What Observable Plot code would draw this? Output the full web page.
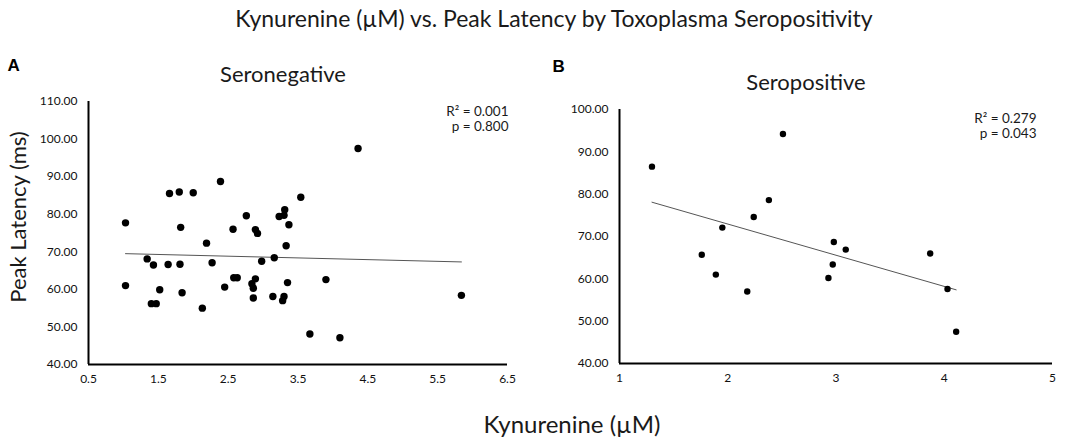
<!DOCTYPE html>
<html>
<head>
<meta charset="utf-8">
<script src="https://cdn.jsdelivr.net/npm/d3@7"></script>
<script src="https://cdn.jsdelivr.net/npm/@observablehq/plot@0.6"></script>
<style>
  html, body { margin: 0; padding: 0; background: #fff; }
  #wrap { position: relative; width: 1084px; height: 444px; overflow: hidden; font-family: Lato, "Liberation Sans", sans-serif; }
  .abs { position: absolute; }
  .ctr { transform: translateX(-50%); white-space: nowrap; line-height: 1; color: #1a1a1a; }
  #title { left: 554px; top: 7px; font-size: 23px; }
  #xtitle { left: 572px; top: 412px; font-size: 24px; }
  #left { left: 0; top: 0; }
  #right { left: 540px; top: 0; }
</style>
</head>
<body>
<div id="wrap">
  <div id="left" class="abs"></div>
  <div id="right" class="abs"></div>
  <div id="title" class="abs ctr">Kynurenine (µM) vs. Peak Latency by Toxoplasma Seropositivity</div>
  <div id="xtitle" class="abs ctr">Kynurenine (µM)</div>
</div>
<script>
// Seronegative (panel A)
const negKyn = [1.03,1.03,1.34,1.43,1.40,1.47,1.52,1.64,1.66,1.80,1.81,1.82,1.84,2.00,2.13,2.19,2.27,2.39,2.45,2.57,2.58,2.63,2.76,2.84,2.86,2.86,2.89,2.89,2.92,2.98,3.14,3.16,3.23,3.30,3.31,3.28,3.30,3.33,3.35,3.37,3.54,3.67,3.90,4.10,4.36,5.84];
const negLat = [77.7,61.0,68.1,66.5,56.2,56.2,59.9,66.6,85.5,85.9,66.7,76.5,59.1,85.7,55.0,72.3,67.1,88.7,60.6,76.0,63.1,63.1,79.6,61.5,60.3,57.7,62.8,75.9,74.9,67.5,58.1,68.4,79.4,79.7,81.2,57.0,58.1,71.6,61.8,77.2,84.5,48.1,62.6,47.1,97.5,58.4];
const negTrendKyn = [1.03, 5.84];
const negTrendLat = [69.5, 67.3];
const negXTicks = [0.5,1.5,2.5,3.5,4.5,5.5,6.5];
const negYTicks = [40,50,60,70,80,90,100,110];
const negStats = ["R² = 0.001", "p = 0.800"];

// Seropositive (panel B)
const posKyn = [1.30,1.76,1.89,1.95,2.18,2.24,2.38,2.51,2.93,2.97,2.98,3.09,3.87,4.03,4.11];
const posLat = [86.5,65.7,61.0,72.1,57.0,74.6,78.6,94.2,60.2,63.4,68.7,66.9,66.0,57.6,47.5];
const posTrendKyn = [1.30, 4.11];
const posTrendLat = [78.1, 57.4];
const posXTicks = [1,2,3,4,5];
const posYTicks = [40,50,60,70,80,90,100];
const posStats = ["R² = 0.279", "p = 0.043"];

const font = 'Lato, "Liberation Sans", sans-serif';

function panel({kyn, lat, trendKyn, trendLat, xTicks, yTicks, xFmt, stats, title, letter,
                width, mL, mR, mT, mB, r, statsDx, statsDy, letterDx, letterDy, titleDx}) {
  const pts = kyn.map((k, i) => ({k, l: lat[i]}));
  const trend = trendKyn.map((k, i) => ({k, l: trendLat[i]}));
  const xDom = [xTicks[0], xTicks[xTicks.length - 1]];
  const yDom = [yTicks[0], yTicks[yTicks.length - 1]];
  return Plot.plot({
    width, height: 444,
    marginLeft: mL, marginRight: mR, marginTop: mT, marginBottom: mB,
    style: {fontFamily: font, fontSize: "12px", color: "#111", background: "transparent"},
    x: {domain: xDom},
    y: {domain: yDom},
    marks: [
      Plot.axisX({ticks: xTicks, tickFormat: xFmt, tickSize: 0, tickPadding: 10, label: null, fontSize: 12}),
      Plot.axisY({ticks: yTicks, tickFormat: d => d.toFixed(2), tickSize: 0, tickPadding: 11, label: null, fontSize: 12}),
      Plot.ruleX([xDom[0]], {stroke: "#000", strokeWidth: 2}),
      Plot.ruleY([yDom[0]], {stroke: "#000", strokeWidth: 2}),
      Plot.line(trend, {x: "k", y: "l", stroke: "#555", strokeWidth: 1}),
      Plot.dot(pts, {x: "k", y: "l", r, fill: "#000", stroke: null}),
      Plot.text([title], {frameAnchor: "top", dx: titleDx, dy: -20, lineAnchor: "bottom", fontSize: 22, fill: "#1a1a1a"}),
      Plot.text([stats.join("\n")], {frameAnchor: "top-right", textAnchor: "end", lineAnchor: "top", dx: statsDx, dy: statsDy, fontSize: 13.5, lineHeight: 1.12, fill: "#1a1a1a"}),
      Plot.text([letter], {frameAnchor: "top-left", textAnchor: "start", lineAnchor: "bottom", dx: letterDx, dy: letterDy, fontSize: 17, fontWeight: "bold", fontFamily: '"Liberation Sans", Arial, sans-serif', fill: "#000"})
    ]
  });
}

const leftPlot = panel({
  kyn: negKyn, lat: negLat, trendKyn: negTrendKyn, trendLat: negTrendLat,
  xTicks: negXTicks, yTicks: negYTicks, xFmt: d => d.toFixed(1), stats: negStats,
  title: "Seronegative", letter: "A",
  width: 540, mL: 88, mR: 33, mT: 101, mB: 80, r: 3.7, statsDx: 1, statsDy: 4,
  letterDx: -81, letterDy: -31, titleDx: -15
});
document.getElementById("left").appendChild(leftPlot);

const rightPlot = panel({
  kyn: posKyn, lat: posLat, trendKyn: posTrendKyn, trendLat: posTrendLat,
  xTicks: posXTicks, yTicks: posYTicks, xFmt: d => String(d), stats: posStats,
  title: "Seropositive", letter: "B",
  width: 544, mL: 79, mR: 32, mT: 109, mB: 81, r: 3.2, statsDx: -16, statsDy: 3,
  letterDx: -67, letterDy: -38, titleDx: -30
});
document.getElementById("right").appendChild(rightPlot);

// y-axis title
const yTitle = document.createElement("div");
yTitle.className = "abs";
yTitle.textContent = "Peak Latency (ms)";
Object.assign(yTitle.style, {
  left: "18px", top: "217px", fontSize: "22px", color: "#1a1a1a", whiteSpace: "nowrap", lineHeight: "1",
  transform: "translate(-50%, -50%) rotate(-90deg)", fontFamily: font
});
document.getElementById("wrap").appendChild(yTitle);
</script>
</body>
</html>
